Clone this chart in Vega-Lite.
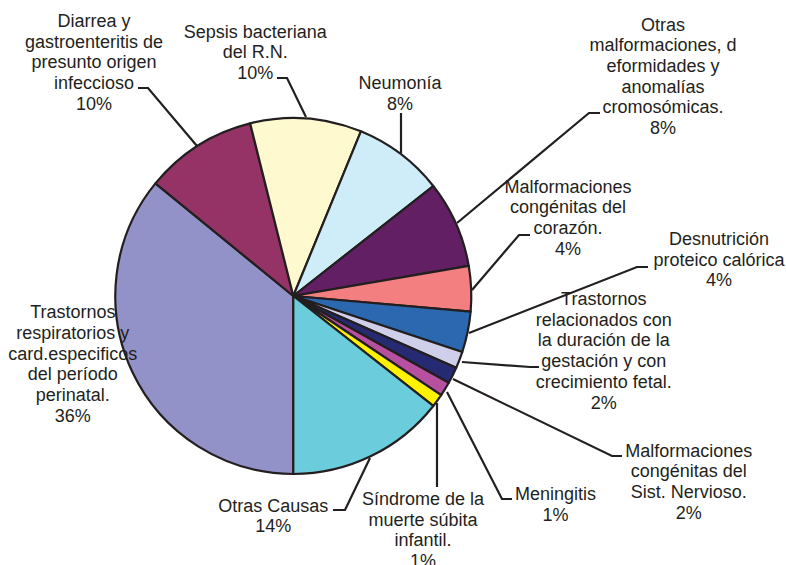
{
  "$schema": "https://vega.github.io/schema/vega-lite/v6.json",
  "width": 586.6,
  "height": 538,
  "autosize": "none",
  "padding": {"left": 0, "top": 27, "right": 199.4, "bottom": 0},
  "background": "white",
  "view": {"stroke": null},
  "datasets": {
    "causas": [
      {"orden": 1, "causa": "Trastornos respiratorios y card.especificos del período perinatal.", "pct": 35.9},
      {"orden": 2, "causa": "Diarrea y gastroenteritis de presunto origen infeccioso", "pct": 10.2},
      {"orden": 3, "causa": "Sepsis bacteriana del R.N.", "pct": 10.1},
      {"orden": 4, "causa": "Neumonía", "pct": 8.2},
      {"orden": 5, "causa": "Otras malformaciones, deformidades y anomalías cromosómicas.", "pct": 7.9},
      {"orden": 6, "causa": "Malformaciones congénitas del corazón.", "pct": 4.1},
      {"orden": 7, "causa": "Desnutrición proteico calórica", "pct": 3.7},
      {"orden": 8, "causa": "Trastornos relacionados con la duración de la gestación y con crecimiento fetal.", "pct": 1.5},
      {"orden": 9, "causa": "Malformaciones congénitas del Sist. Nervioso.", "pct": 1.5},
      {"orden": 10, "causa": "Meningitis", "pct": 1.3},
      {"orden": 11, "causa": "Síndrome de la muerte súbita infantil.", "pct": 1.2},
      {"orden": 12, "causa": "Otras Causas", "pct": 14.4}
    ],
    "etiquetas": [
      {"texto": "Diarrea y\ngastroenteritis de\npresunto origen\ninfeccioso\n10%", "x": -1.1197, "y": 1.5112},
      {"texto": "Sepsis bacteriana\ndel R.N.\n10%", "x": -0.2135, "y": 1.4511},
      {"texto": "Neumonía\n8%", "x": 0.5994, "y": 1.1612},
      {"texto": "Otras\nmalformaciones, d\neformidades y\nanomalías\ncromosómicas.\n8%", "x": 2.077, "y": 1.4904},
      {"texto": "Malformaciones\ncongénitas del\ncorazón.\n4%", "x": 1.5433, "y": 0.5803},
      {"texto": "Desnutrición\nproteico calórica\n4%", "x": 2.3916, "y": 0.2865},
      {"texto": "Trastornos\nrelacionados con\nla duración de la\ngestación y con\ncrecimiento fetal.\n2%", "x": 1.7444, "y": -0.0506},
      {"texto": "Malformaciones\ncongénitas del\nSist. Nervioso.\n2%", "x": 2.2219, "y": -0.9028},
      {"texto": "Meningitis\n1%", "x": 1.473, "y": -1.1461},
      {"texto": "Síndrome de la\nmuerte súbita\ninfantil.\n1%", "x": 0.7287, "y": -1.1742},
      {"texto": "Otras Causas\n14%", "x": -0.1124, "y": -1.2118},
      {"texto": "Trastornos\nrespiratorios y\ncard.especificos\ndel período\nperinatal.\n36%", "x": -1.2388, "y": -0.1253}
    ],
    "guias": [
      {"guia": "Diarrea", "punto": 1, "x": -0.8725, "y": 1.1685},
      {"guia": "Diarrea", "punto": 2, "x": -0.8163, "y": 1.1685},
      {"guia": "Diarrea", "punto": 3, "x": -0.541, "y": 0.8427},
      {"guia": "Sepsis", "punto": 1, "x": -0.0916, "y": 1.2247},
      {"guia": "Sepsis", "punto": 2, "x": -0.0354, "y": 1.2247},
      {"guia": "Sepsis", "punto": 3, "x": 0.0713, "y": 1.0056},
      {"guia": "Neumonia", "punto": 1, "x": 0.6051, "y": 1.0281},
      {"guia": "Neumonia", "punto": 2, "x": 0.6051, "y": 0.8034},
      {"guia": "OtrasMalf", "punto": 1, "x": 1.723, "y": 1.0281},
      {"guia": "OtrasMalf", "punto": 2, "x": 1.6612, "y": 1.0281},
      {"guia": "OtrasMalf", "punto": 3, "x": 0.9197, "y": 0.4101},
      {"guia": "Corazon", "punto": 1, "x": 1.3298, "y": 0.3427},
      {"guia": "Corazon", "punto": 2, "x": 1.268, "y": 0.3427},
      {"guia": "Corazon", "punto": 3, "x": 1.0039, "y": 0.0337},
      {"guia": "Desnutricion", "punto": 1, "x": 1.9927, "y": 0.1629},
      {"guia": "Desnutricion", "punto": 2, "x": 1.9309, "y": 0.1629},
      {"guia": "Desnutricion", "punto": 3, "x": 0.9871, "y": -0.2079},
      {"guia": "TrastRel", "punto": 1, "x": 1.3803, "y": -0.3989},
      {"guia": "TrastRel", "punto": 2, "x": 1.3298, "y": -0.3989},
      {"guia": "TrastRel", "punto": 3, "x": 0.9478, "y": -0.3708},
      {"guia": "SNC", "punto": 1, "x": 1.8466, "y": -0.8989},
      {"guia": "SNC", "punto": 2, "x": 1.7904, "y": -0.8989},
      {"guia": "SNC", "punto": 3, "x": 0.8972, "y": -0.4663},
      {"guia": "Meningitis", "punto": 1, "x": 1.2287, "y": -1.1404},
      {"guia": "Meningitis", "punto": 2, "x": 1.1725, "y": -1.1404},
      {"guia": "Meningitis", "punto": 3, "x": 0.8635, "y": -0.5393},
      {"guia": "Sindrome", "punto": 1, "x": 0.8073, "y": -1.073},
      {"guia": "Sindrome", "punto": 2, "x": 0.8073, "y": -0.6011},
      {"guia": "OtrasCausas", "punto": 1, "x": 0.223, "y": -1.2022},
      {"guia": "OtrasCausas", "punto": 2, "x": 0.2904, "y": -1.2022},
      {"guia": "OtrasCausas", "punto": 3, "x": 0.4309, "y": -0.9101}
    ]
  },
  "layer": [
    {
      "data": {"name": "causas"},
      "mark": {"type": "arc", "radius": 178, "stroke": "#231F20", "strokeWidth": 2.2, "strokeJoin": "round"},
      "encoding": {
        "theta": {"field": "pct", "type": "quantitative", "stack": true, "scale": {"range": [3.141592653589793, 9.42477796076938]}},
        "order": {"field": "orden", "type": "quantitative"},
        "color": {
          "field": "causa",
          "type": "nominal",
          "legend": null,
          "scale": {
            "domain": [
              "Trastornos respiratorios y card.especificos del período perinatal.",
              "Diarrea y gastroenteritis de presunto origen infeccioso",
              "Sepsis bacteriana del R.N.",
              "Neumonía",
              "Otras malformaciones, deformidades y anomalías cromosómicas.",
              "Malformaciones congénitas del corazón.",
              "Desnutrición proteico calórica",
              "Trastornos relacionados con la duración de la gestación y con crecimiento fetal.",
              "Malformaciones congénitas del Sist. Nervioso.",
              "Meningitis",
              "Síndrome de la muerte súbita infantil.",
              "Otras Causas"
            ],
            "range": ["#9292C8", "#963366", "#FFF9D0", "#CFECF9", "#621F63", "#F37F81", "#2B68B0", "#D0CFE9", "#262A73", "#B7509F", "#FFF200", "#6BCCDB"]
          }
        }
      }
    },
    {
      "data": {"name": "guias"},
      "mark": {"type": "line", "stroke": "#231F20", "strokeWidth": 2.2, "strokeJoin": "miter"},
      "encoding": {
        "x": {"field": "x", "type": "quantitative", "axis": null, "scale": {"domain": [-1.6478, 1.6478], "nice": false, "zero": false}},
        "y": {"field": "y", "type": "quantitative", "axis": null, "scale": {"domain": [-1.5112, 1.5112], "nice": false, "zero": false}},
        "detail": {"field": "guia", "type": "nominal"},
        "order": {"field": "punto", "type": "quantitative"}
      }
    },
    {
      "data": {"name": "etiquetas"},
      "mark": {"type": "text", "align": "center", "baseline": "alphabetic", "lineBreak": "\n", "lineHeight": 20.7, "font": "Liberation Sans", "fontSize": 18, "fill": "#231F20"},
      "encoding": {
        "x": {"field": "x", "type": "quantitative", "axis": null, "scale": {"domain": [-1.6478, 1.6478], "nice": false, "zero": false}},
        "y": {"field": "y", "type": "quantitative", "axis": null, "scale": {"domain": [-1.5112, 1.5112], "nice": false, "zero": false}},
        "text": {"field": "texto", "type": "nominal"}
      }
    }
  ]
}
